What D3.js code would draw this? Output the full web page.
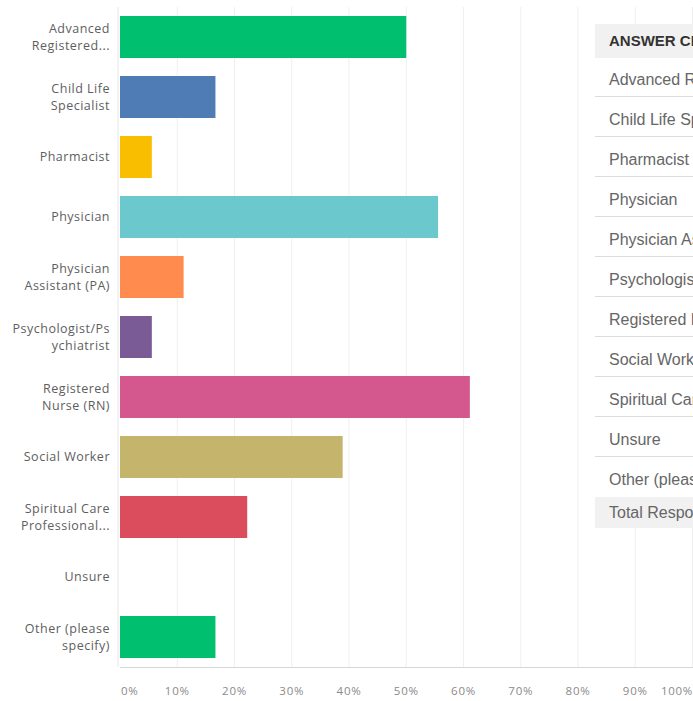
<!DOCTYPE html>
<html>
<head>
<meta charset="utf-8">
<script src="https://cdn.jsdelivr.net/npm/d3@7/dist/d3.min.js"></script>
<style>
  html, body { margin: 0; padding: 0; background: #fff; overflow: hidden; }
  svg { display: block; }
</style>
</head>
<body>
<svg id="chart" width="693" height="701"></svg>
<script>
// Answer categories (axis labels may wrap onto two lines)
const categories = [
  "Advanced Registered...",
  "Child Life Specialist",
  "Pharmacist",
  "Physician",
  "Physician Assistant (PA)",
  "Psychologist/Psychiatrist",
  "Registered Nurse (RN)",
  "Social Worker",
  "Spiritual Care Professional...",
  "Unsure",
  "Other (please specify)"
];
const labelLines = [
  ["Advanced", "Registered..."],
  ["Child Life", "Specialist"],
  ["Pharmacist"],
  ["Physician"],
  ["Physician", "Assistant (PA)"],
  ["Psychologist/Ps", "ychiatrist"],
  ["Registered", "Nurse (RN)"],
  ["Social Worker"],
  ["Spiritual Care", "Professional..."],
  ["Unsure"],
  ["Other (please", "specify)"]
];
// Percentage of respondents choosing each answer
const percents = [50.00, 16.67, 5.56, 55.56, 11.11, 5.56, 61.11, 38.89, 22.22, 0, 16.67];
const barColors = ["#00bf6f", "#507cb6", "#f9be00", "#6bc8cd", "#ff8b4f",
                   "#7a5b96", "#d4578e", "#c4b46c", "#db4d5c", "#a0a0a0", "#00bf6f"];
const tickValues = [0, 10, 20, 30, 40, 50, 60, 70, 80, 90, 100];
const tickLabels = ["0%", "10%", "20%", "30%", "40%", "50%", "60%", "70%", "80%", "90%", "100%"];

// Answer table on the right (runs past the right edge)
const tableHeader = "ANSWER CHOICES";
const tableRows = [
  "Advanced Registered Nurse Practitioner (ARNP)",
  "Child Life Specialist",
  "Pharmacist",
  "Physician",
  "Physician Assistant (PA)",
  "Psychologist/Psychiatrist",
  "Registered Nurse (RN)",
  "Social Worker",
  "Spiritual Care Professional (Chaplain)",
  "Unsure",
  "Other (please specify)"
];
const tableTotal = "Total Respondents: 18";

const svg = d3.select("#chart");
const plotLeft = 120, plotRight = 692.5, plotTop = 7, plotBottom = 667;

const x = d3.scaleLinear().domain([0, 100]).range([plotLeft, plotRight]);
const y = d3.scaleBand().domain(categories).range([plotTop, plotBottom])
  .paddingInner(0.3).paddingOuter(0.15);

// vertical gridlines
svg.append("g").selectAll("line")
  .data(tickValues.slice(1))
  .join("line")
  .attr("x1", d => x(d)).attr("x2", d => x(d))
  .attr("y1", plotTop).attr("y2", plotBottom)
  .attr("stroke", "#efefef").attr("stroke-width", 1);

// left axis line
svg.append("line")
  .attr("x1", plotLeft - 2).attr("x2", plotLeft - 2)
  .attr("y1", plotTop).attr("y2", plotBottom)
  .attr("stroke", "#e6e6e6").attr("stroke-width", 1);

// bottom axis line
svg.append("line")
  .attr("x1", plotLeft).attr("x2", 693)
  .attr("y1", plotBottom + 0.5).attr("y2", plotBottom + 0.5)
  .attr("stroke", "#d6d6d6").attr("stroke-width", 1);

// bars
svg.append("g").selectAll("rect")
  .data(categories)
  .join("rect")
  .attr("x", x(0))
  .attr("y", d => y(d))
  .attr("width", (d, i) => x(percents[i]) - x(0))
  .attr("height", y.bandwidth())
  .attr("fill", (d, i) => barColors[i]);

// category labels
const lab = svg.append("g")
  .attr("font-family", "'Open Sans', sans-serif")
  .attr("font-size", 12.5)
  .attr("letter-spacing", 0.5)
  .attr("fill", "#5e5e5e")
  .attr("text-anchor", "end");
categories.forEach((c, i) => {
  const cy = y(c) + y.bandwidth() / 2;
  const lines = labelLines[i];
  const lh = 17;
  lines.forEach((t, k) => {
    lab.append("text")
      .attr("x", 110)
      .attr("y", cy + (k - (lines.length - 1) / 2) * lh)
      .attr("dy", "0.35em")
      .text(t);
  });
});

// x tick labels
svg.append("g")
  .attr("font-family", "'Open Sans', sans-serif")
  .attr("font-size", 11.5)
  .attr("letter-spacing", 0.7)
  .attr("fill", "#8a8a8a")
  .selectAll("text")
  .data(tickValues)
  .join("text")
  .attr("x", (d, i) => i === 0 ? x(d) + 1 : (i === tickValues.length - 1 ? 693 : x(d)))
  .attr("y", 691)
  .attr("dy", "0.35em")
  .attr("text-anchor", (d, i) => i === 0 ? "start" : (i === tickValues.length - 1 ? "end" : "middle"))
  .text((d, i) => tickLabels[i]);

// answer table
const tx = 595;
const tbl = svg.append("g")
  .attr("font-family", "'Liberation Sans', Arial, sans-serif");
tbl.append("rect").attr("x", tx).attr("y", 24).attr("width", 120).attr("height", 504).attr("fill", "#fff");
tbl.append("rect").attr("x", tx).attr("y", 24).attr("width", 120).attr("height", 34).attr("fill", "#f1f1f1");
tbl.append("text")
  .attr("x", tx + 14).attr("y", 41).attr("dy", "0.35em")
  .attr("font-size", 15).attr("font-weight", "bold").attr("fill", "#333")
  .text(tableHeader);
tableRows.forEach((t, i) => {
  const cy = 79 + i * 40;
  tbl.append("text")
    .attr("x", tx + 14).attr("y", cy).attr("dy", "0.35em")
    .attr("font-size", 16).attr("fill", "#666")
    .text(t);
  if (i < tableRows.length - 1) {
    tbl.append("line")
      .attr("x1", tx).attr("x2", 700)
      .attr("y1", cy + 17.5).attr("y2", cy + 17.5)
      .attr("stroke", "#dcdcdc").attr("stroke-width", 1);
  }
});
tbl.append("rect").attr("x", tx).attr("y", 497).attr("width", 120).attr("height", 31).attr("fill", "#f1f1f1");
tbl.append("text")
  .attr("x", tx + 14).attr("y", 512).attr("dy", "0.35em")
  .attr("font-size", 16).attr("fill", "#666")
  .text(tableTotal);
</script>
</body>
</html>
